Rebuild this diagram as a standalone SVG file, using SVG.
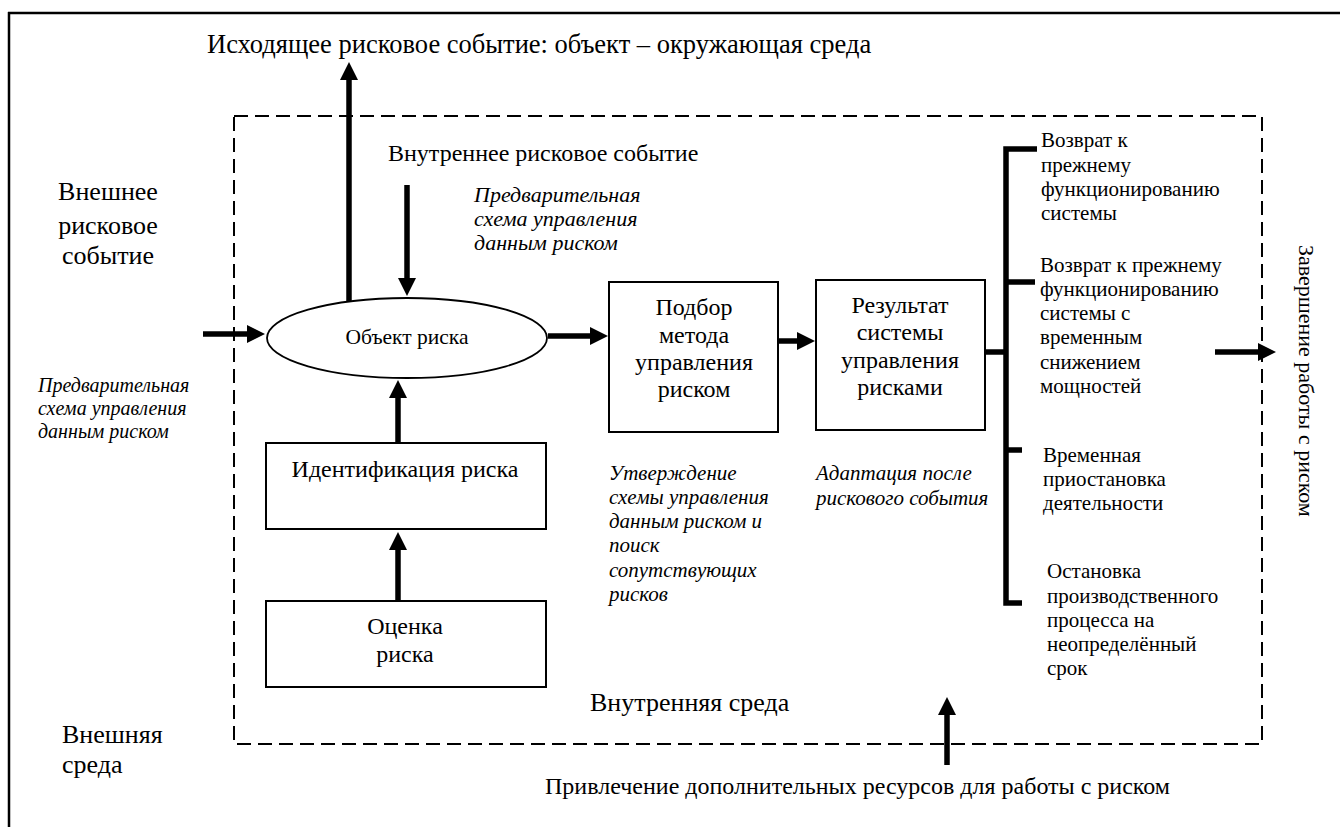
<svg xmlns="http://www.w3.org/2000/svg" width="1340" height="827" viewBox="0 0 1340 827" font-family="'Liberation Serif', 'DejaVu Serif', serif">
<style>
text{font-family:'Liberation Serif','DejaVu Serif',serif;fill:#000}
.t26{font-size:26px}
.t24{font-size:24px}
.t22{font-size:22px}
.t21{font-size:21px}
.it{font-size:20px;font-style:italic}
.it21{font-size:21px;font-style:italic}
.it22{font-size:22px;font-style:italic}
.mid{text-anchor:middle}
.box{fill:#fff;stroke:#000;stroke-width:2}
.arr{stroke:#000;stroke-width:5.5;fill:none;marker-end:url(#ah)}
.thick{stroke:#000;stroke-width:5.5;fill:none}
</style>
<defs>
<marker id="ah" markerUnits="userSpaceOnUse" markerWidth="18" markerHeight="18" refX="1" refY="9" orient="auto">
<path d="M0,0 L18,9 L0,18 z" fill="#000"/>
</marker>
</defs>
<rect x="0" y="0" width="1340" height="827" fill="#fff"/>
<g id="frame">
<path d="M9,12 V827 M8,13 H1340" stroke="#000" stroke-width="2.5" fill="none"/>
<rect x="234" y="116" width="1028" height="628" fill="none" stroke="#000" stroke-width="2" stroke-dasharray="14 7"/>
</g>
<g id="connectors">
<line class="arr" x1="349" y1="301" x2="349" y2="79"/>
<line class="arr" x1="407" y1="185" x2="407" y2="279"/>
<line class="arr" x1="203" y1="334" x2="248" y2="334"/>
<line class="arr" x1="548" y1="336" x2="591" y2="336"/>
<line class="arr" x1="398" y1="443" x2="398" y2="397"/>
<line class="arr" x1="398" y1="601" x2="398" y2="549"/>
<line class="arr" x1="771" y1="341" x2="798" y2="341"/>
<line class="thick" x1="985" y1="352" x2="1006" y2="352"/>
<path class="thick" d="M1037,149 H1006 V603 H1022 M1006,282 H1035 M1006,450 H1022"/>
<line class="arr" x1="1215" y1="352" x2="1259" y2="352"/>
<line class="arr" x1="947" y1="765" x2="947" y2="714"/>
</g>
<g id="title">
<text x="207" y="53" style="font-size:26.5px">Исходящее рисковое событие: объект – окружающая среда</text>
</g>
<g id="internal-event">
<text class="t24" x="388" y="161">Внутреннее рисковое событие</text>
<text class="it22" x="474" y="202">Предварительная</text>
<text class="it22" x="474" y="226">схема управления</text>
<text class="it22" x="474" y="250">данным риском</text>
</g>
<g id="external-event">
<text class="t26 mid" x="108" y="200">Внешнее</text>
<text class="t26 mid" x="108" y="234">рисковое</text>
<text class="t26 mid" x="108" y="264">событие</text>
<text class="it" x="38" y="392">Предварительная</text>
<text class="it" x="38" y="415">схема управления</text>
<text class="it" x="38" y="438">данным риском</text>
</g>
<g id="object">
<ellipse cx="407" cy="338" rx="140" ry="40" fill="#fff" stroke="#000" stroke-width="1.8"/>
<text class="mid" x="407" y="344" style="font-size:21.5px">Объект риска</text>
</g>
<g id="identification">
<rect class="box" x="266" y="443" width="280" height="86"/>
<text class="t24 mid" x="405" y="477">Идентификация риска</text>
</g>
<g id="assessment">
<rect class="box" x="266" y="601" width="280" height="86"/>
<text class="t24 mid" x="405" y="634">Оценка</text>
<text class="t24 mid" x="405" y="662">риска</text>
</g>
<g id="method">
<rect class="box" x="609" y="282" width="169" height="150"/>
<text class="t24 mid" x="694" y="315">Подбор</text>
<text class="t24 mid" x="694" y="343">метода</text>
<text class="t24 mid" x="694" y="370">управления</text>
<text class="t24 mid" x="694" y="397">риском</text>
<text class="it21" x="609" y="480">Утверждение</text>
<text class="it21" x="609" y="504">схемы управления</text>
<text class="it21" x="609" y="528">данным риском и</text>
<text class="it21" x="609" y="552">поиск</text>
<text class="it21" x="609" y="577">сопутствующих</text>
<text class="it21" x="609" y="601">рисков</text>
</g>
<g id="result">
<rect class="box" x="816" y="280" width="169" height="150"/>
<text class="t24 mid" x="900" y="313">Результат</text>
<text class="t24 mid" x="900" y="340">системы</text>
<text class="t24 mid" x="900" y="368">управления</text>
<text class="t24 mid" x="900" y="395">рисками</text>
<text class="it21" x="816" y="480">Адаптация после</text>
<text class="it21" x="816" y="505">рискового события</text>
</g>
<g id="outcome1">
<text class="t21" x="1041" y="147">Возврат к</text>
<text class="t21" x="1041" y="172">прежнему</text>
<text class="t21" x="1041" y="196">функционированию</text>
<text class="t21" x="1041" y="220">системы</text>
</g>
<g id="outcome2">
<text class="t21" x="1040" y="272">Возврат к прежнему</text>
<text class="t21" x="1040" y="296">функционированию</text>
<text class="t21" x="1040" y="320">системы с</text>
<text class="t21" x="1040" y="344">временным</text>
<text class="t21" x="1040" y="369">снижением</text>
<text class="t21" x="1040" y="393">мощностей</text>
</g>
<g id="outcome3">
<text class="t21" x="1043" y="462">Временная</text>
<text class="t21" x="1043" y="486">приостановка</text>
<text class="t21" x="1043" y="510">деятельности</text>
</g>
<g id="outcome4">
<text class="t21" x="1047" y="578">Остановка</text>
<text class="t21" x="1047" y="603">производственного</text>
<text class="t21" x="1047" y="627">процесса на</text>
<text class="t21" x="1047" y="651">неопределённый</text>
<text class="t21" x="1047" y="675">срок</text>
</g>
<g id="completion">
<text class="t22" transform="translate(1299,245) rotate(90)">Завершение работы с риском</text>
</g>
<g id="environment">
<text class="t26" x="590" y="711">Внутренняя среда</text>
<text class="t26" x="62" y="743">Внешняя</text>
<text class="t26" x="62" y="773">среда</text>
<text class="t24" x="545" y="794">Привлечение дополнительных ресурсов для работы с риском</text>
</g>
</svg>
